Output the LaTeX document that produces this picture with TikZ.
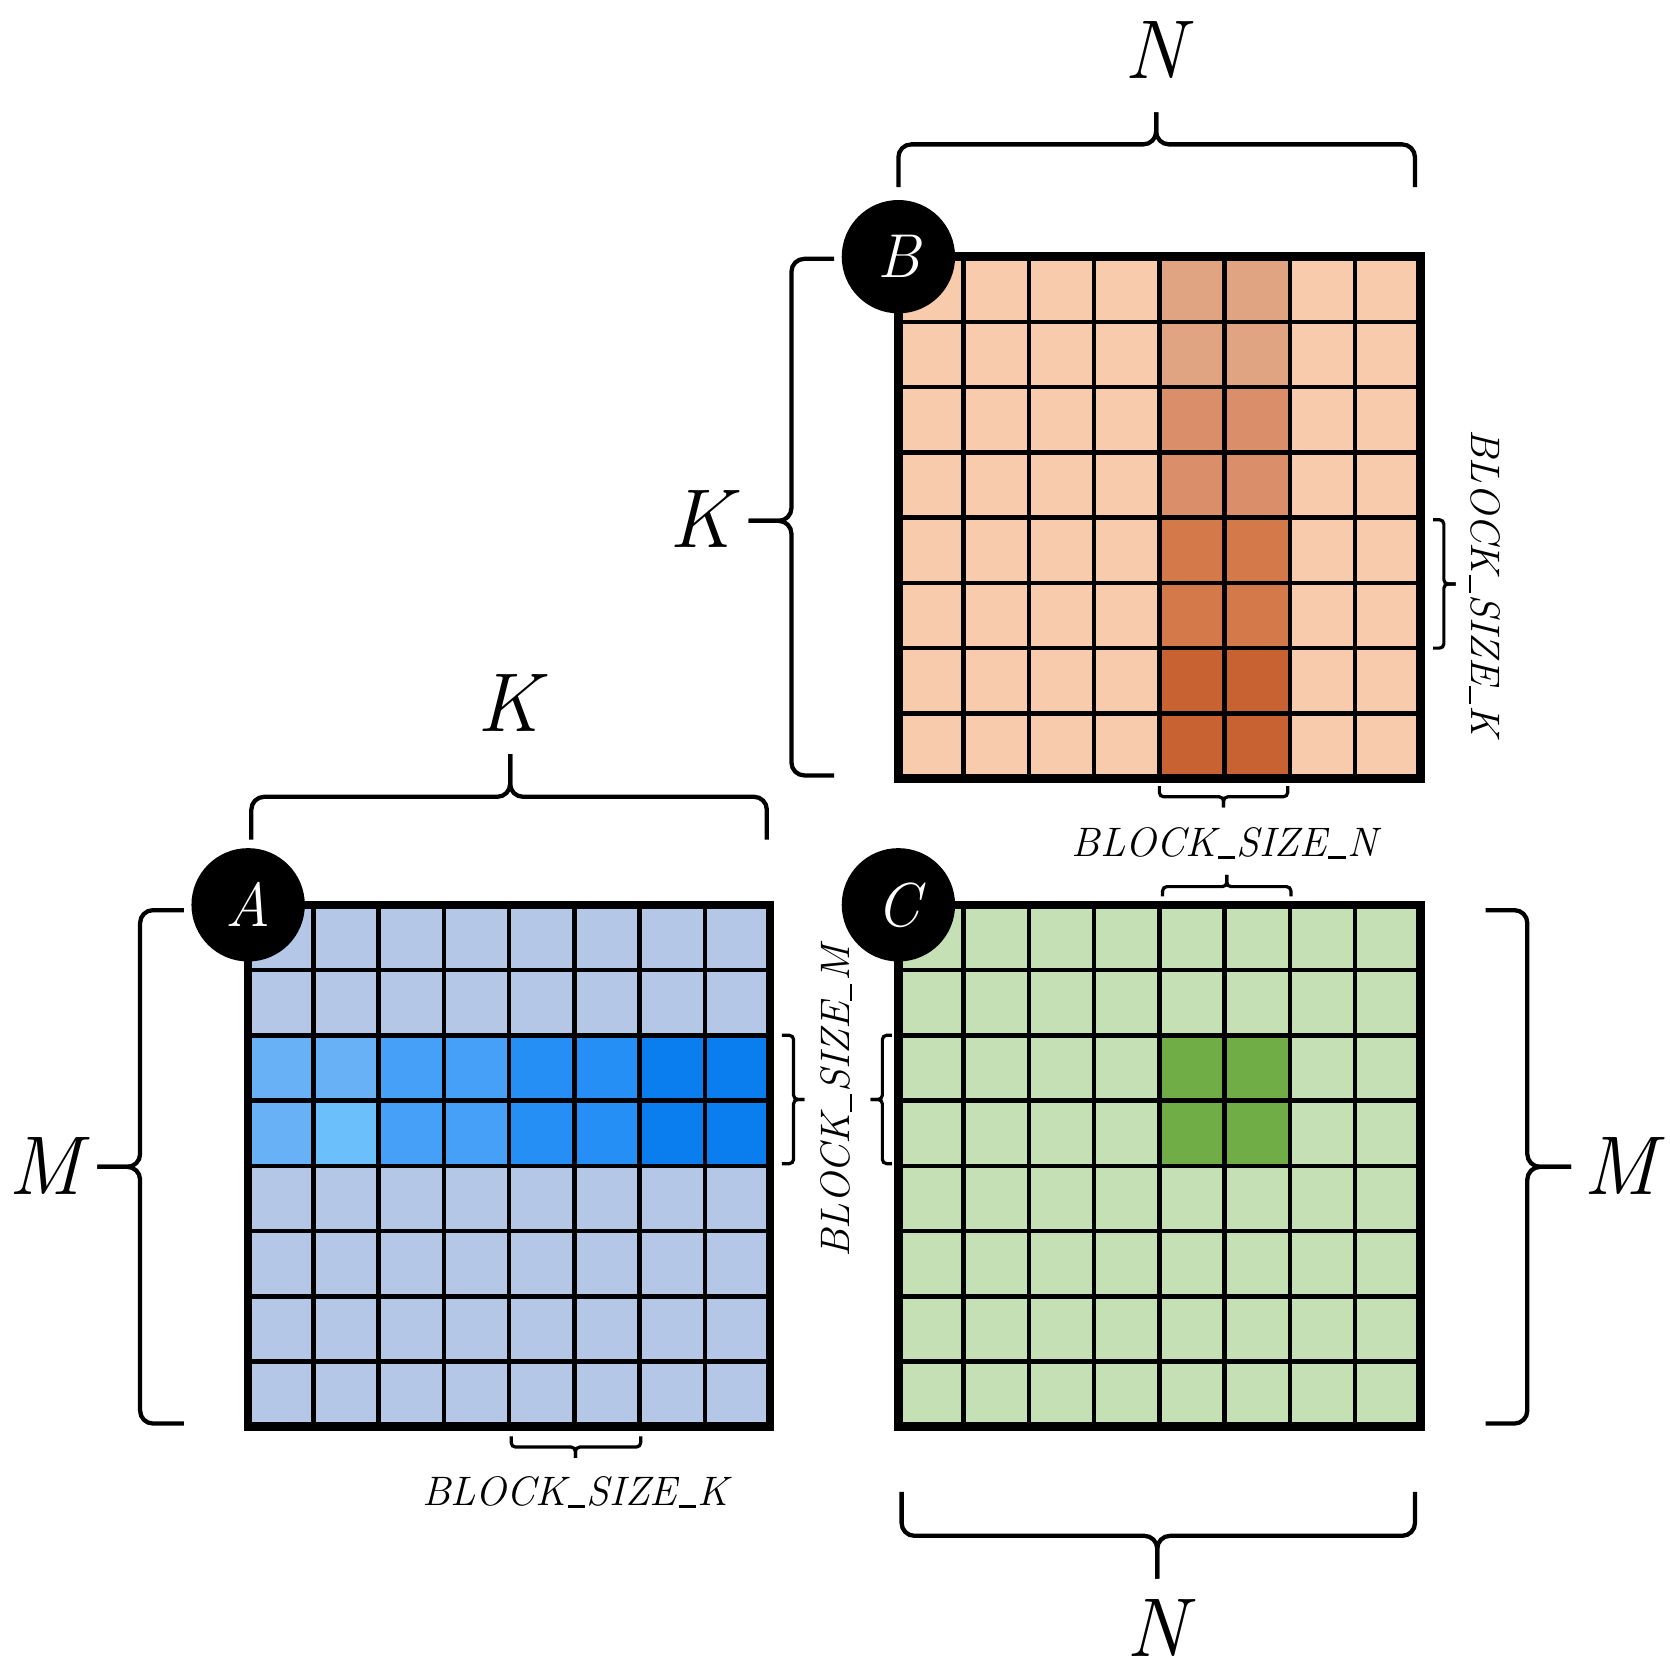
\documentclass[tikz,border=0pt]{standalone}
\usepackage{fontspec}
\definecolor{Alight}{HTML}{B4C7E7}
\definecolor{Aa}{HTML}{69B1F7}
\definecolor{Ac}{HTML}{6BC0FB}
\definecolor{Ab}{HTML}{47A0F7}
\definecolor{Ad}{HTML}{258FF5}
\definecolor{Ae}{HTML}{0A7EEE}
\definecolor{Blight}{HTML}{F8CBAD}
\definecolor{Ba}{HTML}{E0A482}
\definecolor{Bb}{HTML}{DA8E6A}
\definecolor{Bc}{HTML}{D47A4A}
\definecolor{Bd}{HTML}{C96232}
\definecolor{Clight}{HTML}{C5E0B4}
\definecolor{Ca}{HTML}{70AD47}
\newcommand\myus{\kern0.04em\rule[-0.06em]{0.42em}{0.055em}\kern0.04em}
\begin{document}
\begin{tikzpicture}[x=1pt,y=-1pt,
  bigbrace/.style={line width=4pt, rounded corners=12pt},
  smallbrace/.style={line width=3pt, rounded corners=4pt},
  biglabel/.style={font=\fontsize{78}{80}\selectfont\itshape, inner sep=0pt},
  smalllabel/.style={font=\fontsize{38.5}{40}\selectfont\itshape, inner sep=0pt},
  circlabel/.style={circle, fill=black, text=white, minimum size=106pt, inner sep=0pt, font=\fontsize{58}{60}\selectfont\itshape},
  gridline/.style={line width=4.2pt},
  border/.style={line width=8pt},
  matbox/.style={minimum size=488pt, inner sep=0pt, anchor=north west},
]
\useasboundingbox (0,0) rectangle (1561,1568);

% ---------- Matrix A ----------
\node[matbox] (matA) at (232,846) {};
\begin{scope}[shift={(232,846)}]
  \fill[Alight] (0,0) rectangle (488,488);
  \foreach \c/\col in {0/Aa,1/Aa,2/Ab,3/Ab,4/Ad,5/Ad,6/Ae,7/Ae}
    \fill[\col] (\c*61,122) rectangle ++(61,61);
  \foreach \c/\col in {0/Aa,1/Ac,2/Ab,3/Ab,4/Ad,5/Ad,6/Ae,7/Ae}
    \fill[\col] (\c*61,183) rectangle ++(61,61);
  \foreach \i in {1,...,7} {
    \draw[gridline] (\i*61,0) -- (\i*61,488);
    \draw[gridline] (0,\i*61) -- (488,\i*61);
  }
  \draw[border] (0,0) rectangle (488,488);
\end{scope}

% ---------- Matrix B ----------
\node[matbox] (matB) at (840,240) {};
\begin{scope}[shift={(840,240)}]
  \fill[Blight] (0,0) rectangle (488,488);
  \foreach \r/\col in {0/Ba,1/Ba,2/Bb,3/Bb,4/Bc,5/Bc,6/Bd,7/Bd}
    \fill[\col] (244,\r*61) rectangle ++(122,61);
  \foreach \i in {1,...,7} {
    \draw[gridline] (\i*61,0) -- (\i*61,488);
    \draw[gridline] (0,\i*61) -- (488,\i*61);
  }
  \draw[border] (0,0) rectangle (488,488);
\end{scope}

% ---------- Matrix C ----------
\node[matbox] (matC) at (840,846) {};
\begin{scope}[shift={(840,846)}]
  \fill[Clight] (0,0) rectangle (488,488);
  \fill[Ca] (244,122) rectangle ++(122,122);
  \foreach \i in {1,...,7} {
    \draw[gridline] (\i*61,0) -- (\i*61,488);
    \draw[gridline] (0,\i*61) -- (488,\i*61);
  }
  \draw[border] (0,0) rectangle (488,488);
\end{scope}

% ---------- circle labels ----------
\node[circlabel] (cA) at (matA.north west) {A};
\node[circlabel] (cB) at (matB.north west) {B};
\node[circlabel] (cC) at (matC.north west) {C};

% ---------- big braces ----------
% N above B
\draw[bigbrace] (840,175) -- (840,135) -- (1081,135) -- (1081,105);
\draw[bigbrace] (1323,175) -- (1323,135) -- (1081,135) -- (1081,105);
\node[biglabel] (lNtop) at (1080,47) {N};
% K left of B
\draw[bigbrace] (780,242) -- (740,242) -- (740,487) -- (700,487);
\draw[bigbrace] (780,725) -- (740,725) -- (740,487) -- (700,487);
\node[biglabel] (lKB) at (655,485) {K};
% K above A
\draw[bigbrace] (235,785) -- (235,745) -- (477,745) -- (477,705);
\draw[bigbrace] (717,785) -- (717,745) -- (477,745) -- (477,705);
\node[biglabel] (lKA) at (476,657) {K};
% M left of A
\draw[bigbrace] (172,851) -- (131,851) -- (131,1091) -- (91,1091);
\draw[bigbrace] (172,1331) -- (131,1331) -- (131,1091) -- (91,1091);
\node[biglabel] (lMA) at (42,1090) {M};
% M right of C
\draw[bigbrace] (1389,851) -- (1428,851) -- (1428,1091) -- (1469,1091);
\draw[bigbrace] (1389,1331) -- (1428,1331) -- (1428,1091) -- (1469,1091);
\node[biglabel] (lMC) at (1515,1090) {M};
% N below C
\draw[bigbrace] (843,1395) -- (843,1436) -- (1082,1436) -- (1082,1476);
\draw[bigbrace] (1323,1395) -- (1323,1436) -- (1082,1436) -- (1082,1476);
\node[biglabel] (lNbot) at (1082,1522) {N};

% ---------- small braces ----------
% below A
\draw[smallbrace] (478,1343) -- (478,1353) -- (538,1353) -- (538,1363);
\draw[smallbrace] (599,1343) -- (599,1353) -- (538,1353) -- (538,1363);
\node[smalllabel] (lBKA) at (538,1395) {BLOCK\myus SIZE\myus K};
% right of A
\draw[smallbrace] (731,968) -- (742,968) -- (742,1028) -- (752,1028);
\draw[smallbrace] (731,1088) -- (742,1088) -- (742,1028) -- (752,1028);
% below B
\draw[smallbrace] (1084,735) -- (1084,745) -- (1144,745) -- (1144,755);
\draw[smallbrace] (1204,735) -- (1204,745) -- (1144,745) -- (1144,755);
\node[smalllabel] (lBN) at (1145,788) {BLOCK\myus SIZE\myus N};
% above C
\draw[smallbrace] (1087,838) -- (1087,829) -- (1147,829) -- (1147,818);
\draw[smallbrace] (1207,838) -- (1207,829) -- (1147,829) -- (1147,818);
% left of C
\draw[smallbrace] (834,968) -- (825,968) -- (825,1028) -- (814,1028);
\draw[smallbrace] (834,1088) -- (825,1088) -- (825,1028) -- (814,1028);
\node[smalllabel, rotate=90] (lBM) at (782,1030) {BLOCK\myus SIZE\myus M};
% right of B
\draw[smallbrace] (1340,486) -- (1350,486) -- (1350,546) -- (1361,546);
\draw[smallbrace] (1340,606) -- (1350,606) -- (1350,546) -- (1361,546);
\node[smalllabel, rotate=-90] (lBKB) at (1388,545) {BLOCK\myus SIZE\myus K};
\end{tikzpicture}
\end{document}
